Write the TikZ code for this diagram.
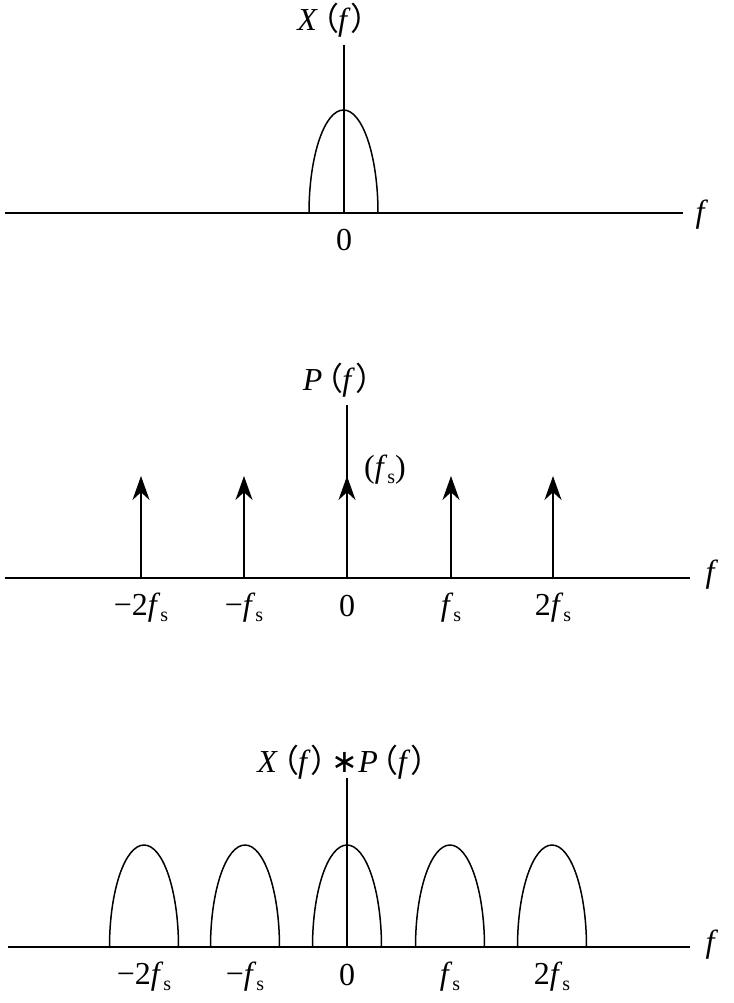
\documentclass[tikz,border=0pt]{standalone}
\usepackage{fontspec}
\setmainfont{Liberation Serif}
\newfontfamily\cjk{Noto Sans CJK SC}
\newfontfamily\djv{DejaVu Sans}
\newcommand{\lp}{\hspace{-11pt}{\cjk （}\hspace{-1pt}}
\newcommand{\rp}{\hspace{0pt}{\cjk ）}\hspace{-11pt}}
\newcommand{\sub}{\raisebox{-6pt}{\fontsize{20}{20}\selectfont s}}
\usetikzlibrary{arrows.meta}
\begin{document}
\begin{tikzpicture}[x=1pt,y=-1pt,line width=1.5pt,
  lab/.style={font=\fontsize{32}{32}\selectfont,inner sep=0pt},
  imp/.style={-{Stealth[length=24pt,width=17pt]},line width=2.5pt}]
\useasboundingbox (0,0) rectangle (733,1003);
% panel 1
\coordinate (a1l) at (5,213); \coordinate (a1r) at (683,213);
\draw (a1l) -- (a1r);
\node[lab] (f1) at (702,215) {\textit{f}};
\coordinate (v1b) at (344,213); \coordinate (v1t) at (344,45);
\draw (v1b) -- (v1t);
\node[lab] (X1) at (340,20) {\textit{X}\lp\textit{f}\rp};
\node[lab] (z1) at (344,240) {0};
\draw (309,213) arc[start angle=180,end angle=0,x radius=34.5,y radius=-103];
% panel 2
\coordinate (a2l) at (5,578); \coordinate (a2r) at (690,578);
\draw (a2l) -- (a2r);
\node[lab] (f2) at (712,575) {\textit{f}};
\coordinate (v2b) at (347,578); \coordinate (v2t) at (347,405);
\draw (v2b) -- (v2t);
\node[lab] (P2) at (345,380) {\textit{P}\lp\textit{f}\rp};
\foreach \x/\n in {141/a,244/b,347/c,451/d,553/e}{
  \coordinate (b\n) at (\x,578); \coordinate (t\n) at (\x,476);
  \draw[imp] (b\n) -- (t\n);}
\node[lab] (fs) at (385,470) {(\textit{f}\sub)};
\foreach \x/\t/\n in {141/{−2}/a,244/{−}/b,451/{}/d,553/{2}/e}{
  \node[lab] (l2\n) at (\x,608) {\t\textit{f}\sub};}
\node[lab] (z2) at (347,606) {0};
% panel 3
\coordinate (a3l) at (8,947); \coordinate (a3r) at (690,947);
\draw (a3l) -- (a3r);
\node[lab] (f3) at (712,945) {\textit{f}};
\coordinate (v3b) at (347,947); \coordinate (v3t) at (347,778);
\draw (v3b) -- (v3t);
\node[lab] (XP) at (350,762) {\textit{X}\lp\textit{f}\rp{\djv ∗}\textit{P}\lp\textit{f}\rp};
\foreach \x in {144,245,347,450,552}{
  \draw (\x-34.5,947) arc[start angle=180,end angle=0,x radius=34.5,y radius=-102];}
\foreach \x/\t/\n in {144/{−2}/a,245/{−}/b,450/{}/d,552/{2}/e}{
  \node[lab] (l3\n) at (\x,977) {\t\textit{f}\sub};}
\node[lab] (z3) at (347,975) {0};
\end{tikzpicture}
\end{document}
